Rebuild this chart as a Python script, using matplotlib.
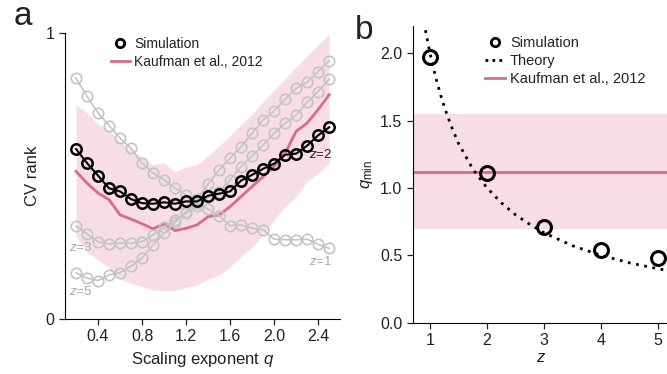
import numpy as np
import matplotlib
matplotlib.use("Agg")
import matplotlib.pyplot as plt
from matplotlib.lines import Line2D

plt.rcParams['font.family'] = ['Liberation Sans', 'DejaVu Sans']
plt.rcParams['mathtext.fontset'] = 'custom'
plt.rcParams['mathtext.rm'] = 'Liberation Sans'
plt.rcParams['mathtext.it'] = 'Liberation Sans:italic'
plt.rcParams['text.color'] = '#222222'
plt.rcParams['axes.labelcolor'] = '#222222'
plt.rcParams['xtick.color'] = '#222222'
plt.rcParams['ytick.color'] = '#222222'

# ---- panel a data ----
q = [0.2, 0.3, 0.4, 0.5, 0.6, 0.7, 0.8, 0.9, 1.0, 1.1, 1.2, 1.3,
     1.4, 1.5, 1.6, 1.7, 1.8, 1.9, 2.0, 2.1, 2.2, 2.3, 2.4, 2.5]
cv_z2 = [0.594, 0.545, 0.501, 0.457, 0.446, 0.419, 0.405, 0.403, 0.408, 0.403, 0.411, 0.411,
         0.431, 0.438, 0.446, 0.484, 0.504, 0.525, 0.543, 0.574, 0.578, 0.606, 0.642, 0.670]
cv_z1 = [0.842, 0.778, 0.720, 0.676, 0.632, 0.597, 0.545, 0.510, 0.487, 0.457, 0.434, 0.405,
         0.384, 0.361, 0.326, 0.329, 0.317, 0.312, 0.279, 0.277, 0.277, 0.279, 0.261, 0.247]
cv_z3 = [0.325, 0.297, 0.270, 0.262, 0.265, 0.265, 0.270, 0.294, 0.323, 0.345, 0.370, 0.395,
         0.425, 0.445, 0.486, 0.533, 0.570, 0.608, 0.649, 0.684, 0.713, 0.757, 0.795, 0.838]
cv_z5 = [0.162, 0.143, 0.134, 0.154, 0.162, 0.185, 0.213, 0.259, 0.300, 0.338, 0.375, 0.420,
         0.472, 0.521, 0.563, 0.602, 0.650, 0.696, 0.727, 0.768, 0.806, 0.828, 0.865, 0.903]
kaufman = [0.516, 0.475, 0.440, 0.417, 0.364, 0.349, 0.333, 0.315, 0.333, 0.309, 0.317, 0.329,
           0.358, 0.364, 0.393, 0.428, 0.463, 0.498, 0.533, 0.580, 0.656, 0.685, 0.732, 0.784]
kaufman_hi = [0.749, 0.720, 0.680, 0.660, 0.620, 0.590, 0.565, 0.540, 0.545, 0.515, 0.530, 0.540,
              0.570, 0.605, 0.640, 0.680, 0.715, 0.760, 0.800, 0.840, 0.880, 0.920, 0.960, 0.995]
kaufman_lo = [0.290, 0.235, 0.206, 0.180, 0.140, 0.125, 0.113, 0.101, 0.100, 0.100, 0.110, 0.119,
              0.139, 0.154, 0.183, 0.218, 0.253, 0.294, 0.347, 0.393, 0.428, 0.481, 0.510, 0.545]

# ---- panel b data ----
z = [1, 2, 3, 4, 5]
qmin_sim = [1.97, 1.11, 0.711, 0.539, 0.477]
z_theory = [0.92, 1.0, 1.1, 1.2, 1.3, 1.4, 1.5, 1.75, 2.0, 2.25, 2.5, 2.75, 3.0, 3.5, 4.0, 4.5, 5.0, 5.2]
qmin_theory = [2.17, 2.0, 1.82, 1.67, 1.54, 1.43, 1.33, 1.14, 1.0, 0.89, 0.8, 0.73, 0.667,
               0.571, 0.5, 0.444, 0.4, 0.385]
kaufman_qmin = 1.116
kaufman_qmin_lo = 0.696
kaufman_qmin_hi = 1.546

pink = '#dc6a90'
band = '#f6dde6'
grey = '#c4c4c4'

fig = plt.figure(figsize=(6.67, 3.74), dpi=100)
ax1 = fig.add_axes([0.0975, 0.147, 0.4125, 0.765])
ax2 = fig.add_axes([0.619, 0.137, 0.385, 0.793])

for ax in (ax1, ax2):
    ax.spines['top'].set_visible(False)
    ax.spines['right'].set_visible(False)
    ax.tick_params(labelsize=11.5, length=4, width=0.9, direction='out')

# legend handles
sim_h = Line2D([], [], ls='none', marker='o', ms=6, mfc='none', mec='black', mew=2)
kauf_h = Line2D([], [], color=pink, lw=2)
theo_h = Line2D([], [], color='black', lw=2, ls=(0, (1, 1.5)))

# panel a
ax1.fill_between(q, kaufman_lo, kaufman_hi, color=band, lw=0)
ax1.plot(q, kaufman, color=pink, lw=2)
for s in (cv_z1, cv_z3, cv_z5):
    ax1.plot(q, s, color=grey, lw=1.2, marker='o', ms=7.5, mfc='none', mec=grey, mew=1.2)
ax1.plot(q, cv_z2, color='black', lw=1.5, marker='o', ms=7.5, mfc='none', mec='black', mew=1.8)
ax1.set_xlim(0.1, 2.6)
ax1.set_ylim(0, 1)
ax1.set_xticks([0.4, 0.8, 1.2, 1.6, 2.0, 2.4])
ax1.set_xticklabels(['0.4', '0.8', '1.2', '1.6', '2.0', '2.4'])
ax1.set_yticks([0, 1])
ax1.set_xlabel('Scaling exponent $q$', fontsize=12)
ax1.set_ylabel('CV rank', fontsize=12)
ax1.text(2.53, 0.575, '$z$=2', fontsize=9.5, color='#222222', ha='right', va='center')
ax1.text(2.53, 0.20, '$z$=1', fontsize=9.5, color='#aaaaaa', ha='right', va='center')
ax1.text(0.14, 0.25, '$z$=3', fontsize=9.5, color='#aaaaaa', ha='left', va='center')
ax1.text(0.14, 0.095, '$z$=5', fontsize=9.5, color='#aaaaaa', ha='left', va='center')
ax1.legend([sim_h, kauf_h], ['Simulation', 'Kaufman et al., 2012'], loc='upper left',
           bbox_to_anchor=(0.12, 1.03), frameon=False, fontsize=10, handlelength=1.4,
           handletextpad=0.3, labelspacing=0.3)

# panel b
ax2.axhspan(kaufman_qmin_lo, kaufman_qmin_hi, color=band, lw=0)
ax2.axhline(kaufman_qmin, color=pink, lw=2)
ax2.plot(z_theory, qmin_theory, color='black', lw=2, ls=(0, (1, 2)))
ax2.plot(z, qmin_sim, ls='none', marker='o', ms=10, mfc='none', mec='black', mew=2.2)
ax2.set_xlim(0.7, 5.2)
ax2.set_ylim(0, 2.2)
ax2.set_xticks([1, 2, 3, 4, 5])
ax2.set_yticks([0.0, 0.5, 1.0, 1.5, 2.0])
ax2.set_yticklabels(['0.0', '0.5', '1.0', '1.5', '2.0'])
ax2.set_xlabel('$z$', fontsize=12, labelpad=1)
ax2.set_ylabel('$q_{\\mathrm{min}}$', fontsize=12)
ax2.legend([sim_h, theo_h, kauf_h], ['Simulation', 'Theory', 'Kaufman et al., 2012'],
           loc='upper left', bbox_to_anchor=(0.23, 1.01), frameon=False, fontsize=10.5,
           handlelength=1.4, handletextpad=0.3, labelspacing=0.25)

fig.text(0.02, 0.955, 'a', fontsize=24, va='center')
fig.text(0.532, 0.918, 'b', fontsize=24, va='center')

fig.savefig('out.png', dpi=100)
